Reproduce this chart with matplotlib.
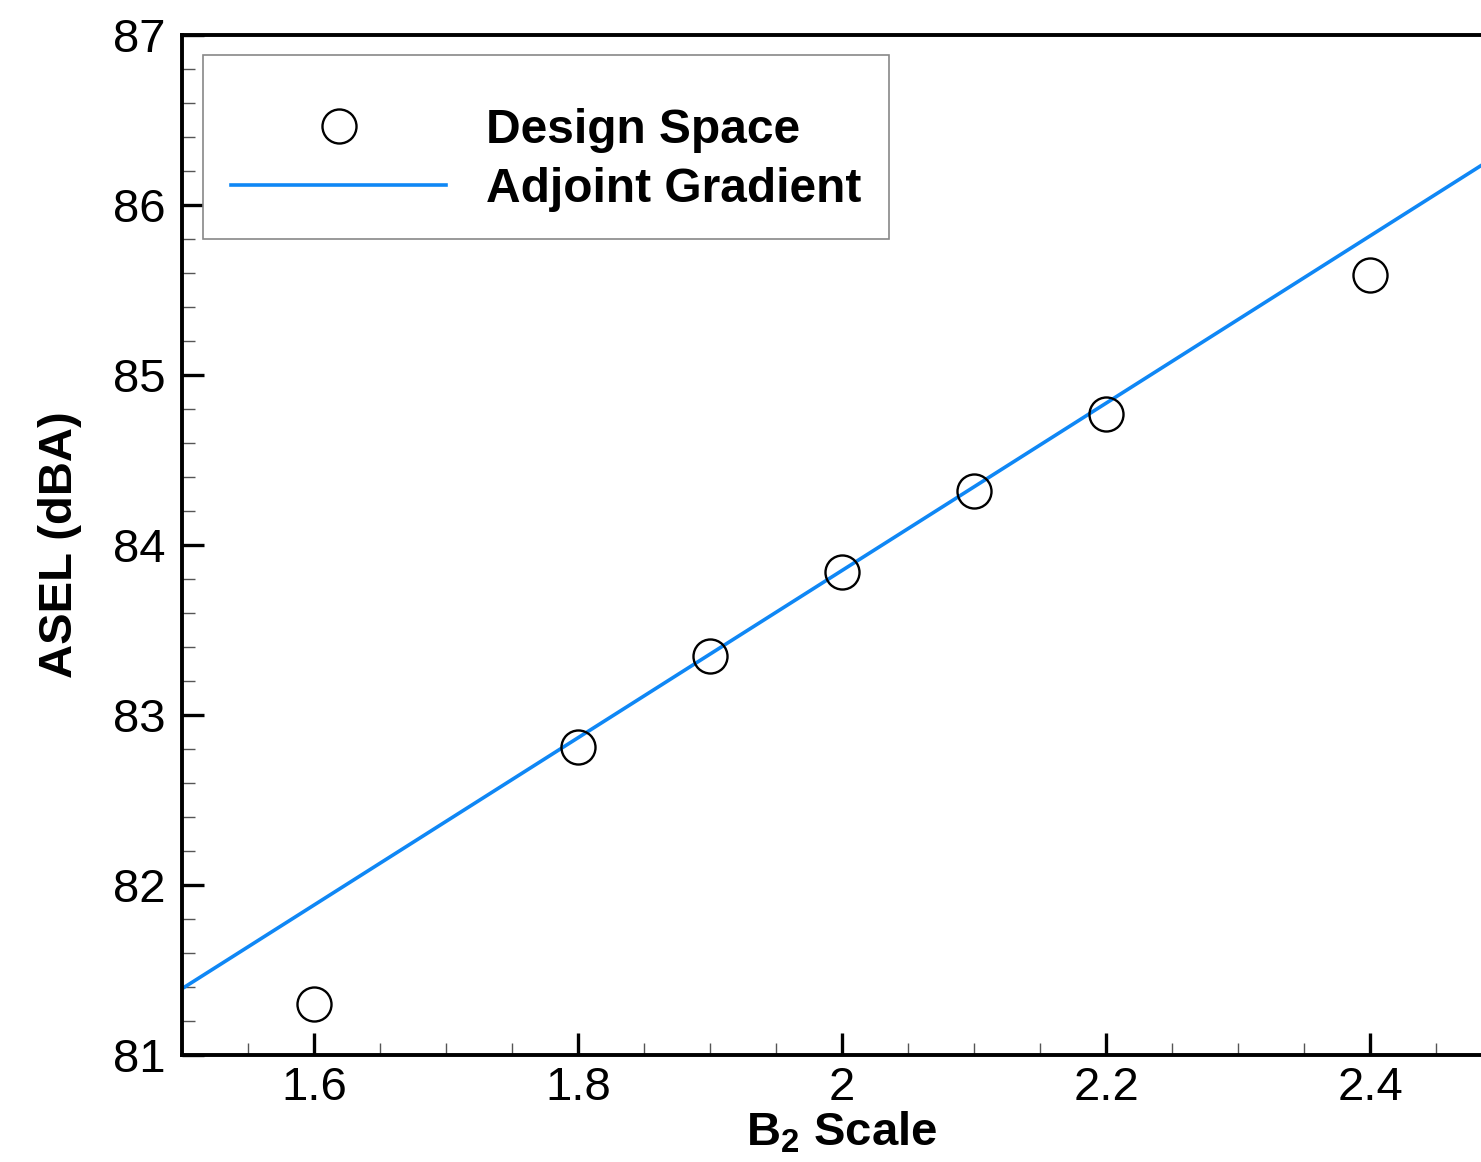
import matplotlib
matplotlib.use('Agg')
from matplotlib import pyplot as plt
from matplotlib.ticker import MultipleLocator, FixedLocator, FixedFormatter

# design space samples
scale = [1.6, 1.8, 1.9, 2.0, 2.1, 2.2, 2.4]
asel = [81.30, 82.81, 83.35, 83.84, 84.32, 84.77, 85.59]

# adjoint gradient line (end points)
grad_x = [1.5, 2.5]
grad_y = [81.39, 86.31]

xticks = [1.6, 1.8, 2.0, 2.2, 2.4]
xticklabels = ['1.6', '1.8', '2', '2.2', '2.4']
yticks = [81, 82, 83, 84, 85, 86, 87]
yticklabels = ['81', '82', '83', '84', '85', '86', '87']

plt.rcParams['font.family'] = ['Liberation Sans', 'DejaVu Sans']
plt.rcParams['mathtext.fontset'] = 'custom'
plt.rcParams['mathtext.bf'] = 'Liberation Sans:bold'
plt.rcParams['mathtext.rm'] = 'Liberation Sans'

fig = plt.figure(figsize=(14.81, 11.62), dpi=100)
ax = fig.add_axes([182 / 1481, 107 / 1162, 1320 / 1481, 1020 / 1162])

ax.plot(grad_x, grad_y, '-', color='#0f87f5', lw=2.6, label='Adjoint Gradient', zorder=2)
ax.plot(scale, asel, 'o', ms=24.5, mfc='none', mec='black', mew=1.7,
        label='Design Space', zorder=3)

ax.set_xlim(1.5, 2.5)
ax.set_ylim(81, 87)

ax.xaxis.set_major_locator(FixedLocator(xticks))
ax.xaxis.set_major_formatter(FixedFormatter(xticklabels))
ax.yaxis.set_major_locator(FixedLocator(yticks))
ax.yaxis.set_major_formatter(FixedFormatter(yticklabels))
ax.xaxis.set_minor_locator(MultipleLocator(0.05))
ax.yaxis.set_minor_locator(MultipleLocator(0.2))

ax.tick_params(which='major', direction='in', length=16, width=2.4,
               labelsize=34, top=False, right=False)
ax.tick_params(axis='x', which='major', pad=8)
ax.tick_params(axis='y', which='major', pad=12)
ax.tick_params(which='minor', direction='in', length=9, width=1.0,
               color='#555555', top=False, right=False)

for side in ['left', 'bottom', 'top']:
    ax.spines[side].set_linewidth(2.8)
ax.spines['right'].set_visible(False)

ax.set_xlabel(r'$\mathbf{B_2}$ Scale', fontsize=34, fontweight='bold', labelpad=0)
ax.set_ylabel('ASEL (dBA)', fontsize=34, fontweight='bold', labelpad=22)

handles, labels = ax.get_legend_handles_labels()
leg = ax.legend(handles[::-1], labels[::-1], loc='upper left',
                bbox_to_anchor=(21 / 1320, 1000 / 1020), borderaxespad=0,
                fancybox=False, edgecolor='#888888', framealpha=1,
                prop={'size': 34.5, 'weight': 'bold'}, handlelength=4.5,
                handletextpad=0.82, borderpad=0.58, labelspacing=0.28, numpoints=1,
                title=' ', title_fontsize=9)
leg.get_frame().set_linewidth(1.2)

plt.savefig('out.png', dpi=100)
